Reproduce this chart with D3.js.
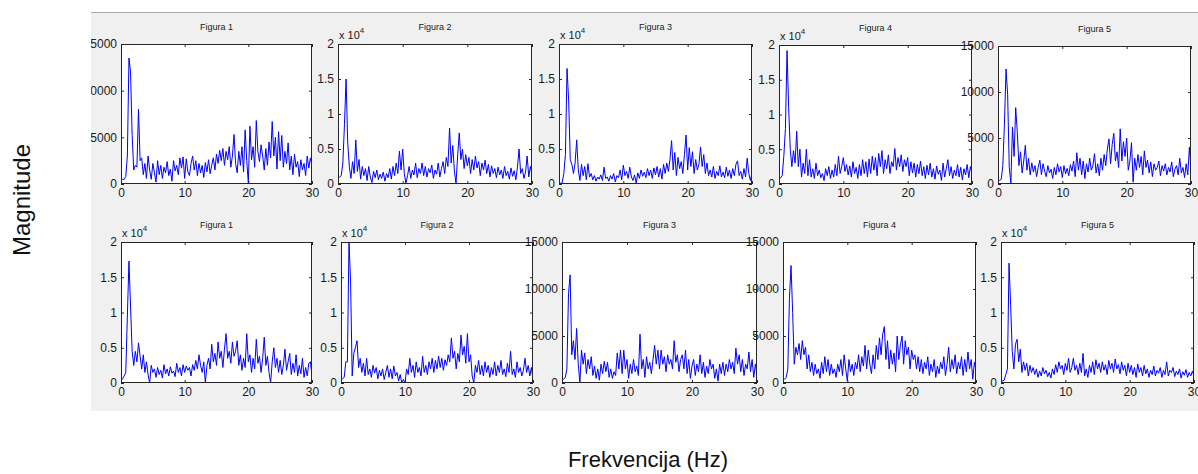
<!DOCTYPE html>
<html>
<head>
<meta charset="utf-8">
<script src="https://cdn.jsdelivr.net/npm/d3@7/dist/d3.min.js"></script>
<style>
  body { margin: 0; background: #fff; }
  svg text { font-family: "Liberation Sans", Arial, sans-serif; }
</style>
</head>
<body>
<div id="chart"></div>
<script>
// spectra, magnitude sampled every 0.25 Hz from 0 to 30 Hz
var top1 = [400,500,500,800, 3000,13500,12000,5200, 1500,2000,1800,8000, 2500,2800,1000,2200,
  600,3000,1500,500, 2200,1200,200,2500, 1000,2000,600,1800, 1200,2400,900,1600,
  300,2500,1400,2000, 1000,2800,1700,2900, 600,2700,1300,900, 2200,3000,1500,2500,
  900,2200,1200,2000, 700,2300,1300,2600, 1100,2000,2800,1500, 3200,2200,3600,2500,
  3800,2000,3500,2600, 4000,1800,3000,5300, 2200,1200,3500,2000, 4000,1300,5800,2500,
  100,6200,2600,4000, 1800,6800,3500,2400, 4200,3000,1500,3800, 2000,4500,2800,6700,
  3000,5000,1600,5600, 2500,5200,1800,3500, 2200,4400,1500,3000, 1000,3200,1800,2400,
  800,2600,1500,2200, 900,3000,1700,2800, 1900];

var top2 = [800,1000,1200,3000, 8500,15000,6000,2500, 800,3200,1500,6300, 1800,3500,700,2500,
  1200,2200,500,2500, 1000,200,1800,900, 2000,600,1400,800, 1700,400,1500,900,
  2200,700,2500,1200, 3000,1500,4700,2000, 5000,1500,100,1200, 2500,800,2000,1300,
  3000,900,2200,1500, 3000,1200,2500,1000, 2200,1600,2700,800, 2000,1400,3000,1000,
  2200,3200,1500,3800, 2500,8000,3000,5500, 1800,100,4000,7300, 3500,5000,2200,4200,
  2600,3800,1500,3500, 2000,4000,2300,3200, 1200,3000,2000,3400, 1500,2800,1000,2600,
  1500,2200,900,2400, 1300,2000,800,2500, 1200,1800,700,2300, 1100,1900,600,2400,
  5000,1500,2200,800, 1700,4000,1000,2500, 1300];

var top3 = [200,100,200,1500, 4200,16500,12000,3500, 2800,1500,3000,6300, 2000,500,2800,1200,
  2500,600,2900,1000, 1500,600,1200,400, 1000,700,1300,500, 2400,800,1000,400,
  1200,700,1500,300, 1200,900,2000,600, 2700,1200,1800,800, 2400,1000,500,1300,
  100,1600,800,2000, 1100,1700,900,2200, 1200,2000,800,2300, 1300,2500,1000,2200,
  700,2800,1500,3000, 1800,3500,6200,2000, 4500,1200,3800,2200, 3200,1500,4200,7000,
  2000,5200,2500,4600, 1500,3500,2000,2800, 5300,2500,4200,1500, 3000,1200,2000,1000,
  2500,800,1800,1200, 2600,1000,1700,900, 2400,1100,2000,800, 2200,1200,2800,3300,
  1200,1800,700,2200, 1000,3700,1500,500, 1600];

var top4 = [1000,900,1200,4000, 8000,19200,11000,5000, 2500,4800,3000,7600, 2500,5000,1000,3000,
  1500,5000,1200,3500, 1000,2200,800,3000, 1200,2000,900,1500, 500,2200,1200,2500,
  800,2000,1000,2800, 1200,4000,1500,2500, 3800,1800,2800,1300, 2600,1000,3200,1500,
  2400,800,2800,1200, 3500,1500,3200,1000, 3600,1500,4000,2000, 3800,1200,4400,2500,
  4800,1500,3500,2200, 4200,1500,3200,2500, 5100,2000,3800,2500, 4200,1800,3500,2500,
  3800,1200,3200,1600, 3000,1000,2800,1500, 3300,1200,2500,800, 2700,1300,3000,1000,
  2200,700,2600,1400, 2000,500,3000,1000, 2200,3500,1200,2500, 800,2000,1200,2800,
  1000,2400,600,2200, 1300,2800,900,2500, 1500];

var top5 = [300,400,500,2000, 6500,12500,9700,1800, 100,6200,3000,8300, 5600,2000,3500,1200,
  2500,4200,1500,2800, 1000,2300,1300,2000, 800,1800,2600,1000, 2200,1400,800,2000,
  1200,1600,600,1800, 1000,2200,1300,1900, 700,2000,1100,1700, 900,2100,1400,2500,
  800,3400,1500,2800, 1000,2500,600,2200, 1300,2800,1500,2000, 3300,1200,2200,900,
  2800,1500,3200,2000, 3800,4900,2200,4300, 5500,2500,3500,1800, 6000,2500,4600,3000,
  5000,1500,2500,4500, 200,2800,1500,3200, 1800,3000,1000,3600, 1800,2600,1200,2400,
  800,2200,1500,1800, 2500,900,2000,1400, 2200,1000,1800,1300, 2400,800,1600,2000,
  1000,2800,1200,1800, 700,2200,1000,4000, 1500];

var bot1 = [300,600,1000,1500, 9500,17300,10800,4500, 2500,4500,3000,5700, 3800,2000,4000,1500,
  3000,1200,0,2500, 1500,2000,800,2200, 1200,1800,700,2600, 1300,2000,1000,2300,
  1400,1700,900,2800, 1500,2200,1000,2600, 1500,2400,1800,2200, 1000,2600,1800,3200,
  2000,4000,2500,1500, 3000,0,2500,3500, 2000,5500,3000,4200, 2500,5800,3500,4500,
  2200,4800,7000,3500, 4500,2800,5800,3800, 4500,6000,2500,4000, 1800,3500,2200,7000,
  3000,4000,1500,3500, 2000,6200,2800,3800, 1500,3500,6500,2500, 3800,1500,0,3000,
  5000,2200,3500,1500, 3200,1200,2500,4800, 1800,3000,4200,1200, 2800,1500,4000,1000,
  2500,1300,3500,800, 2200,1000,2800,3000, 1000];

var bot2 = [500,600,800,3000, 3000,20000,14300,1000, 4200,5000,6000,2200, 3500,1500,2800,1000,
  3500,1200,2000,800, 2500,1400,2200,600, 1800,1000,2000,500, 1500,2500,800,2000,
  600,2400,1000,1500, 300,1200,0,500, 0,2000,1200,3500, 1500,2500,800,3000,
  1500,2200,1000,3800, 1500,2500,1200,3000, 2000,3500,1500,3200, 2000,3800,2200,3500,
  1800,3300,2500,4000, 3000,6400,3500,4500, 2000,4200,3000,6800, 4000,5200,2800,7000,
  3000,4000,1000,0, 2500,1500,3200,1200, 2500,1000,3000,1500, 2500,800,2200,1200,
  3000,1000,2500,1500, 3200,1200,2000,900, 2800,1500,4500,1200, 2000,800,3000,1500,
  2200,1000,1800,3500, 1500,2500,1000,2200, 500];

var bot3 = [300,400,600,1500, 9500,11500,3000,4500, 2500,5800,2000,0, 3500,2000,3200,1000,
  2500,1500,2800,800, 1800,500,1500,300, 2000,1000,2300,1200, 2200,600,1500,500,
  1200,800,3200,1500, 3500,1000,3500,1500, 2500,500,2000,1000, 2500,1200,1800,800,
  5200,1500,2500,600, 2800,1500,2200,1000, 2500,4000,2000,3500, 1500,3500,2000,2800,
  1200,3000,2000,2500, 1500,4500,2200,3000, 1200,2500,3000,1500, 3500,1000,2500,500,
  1800,2500,800,2000, 1200,3000,1000,2200, 600,1800,1000,2500, 1500,2000,500,1500,
  200,2000,1000,2200, 800,2000,1200,2500, 1500,2200,1000,3700, 2000,3000,1200,2500,
  800,2000,1500,3300, 1200,2500,600,2000, 800];

var bot4 = [300,400,600,1500, 9000,12500,7500,2000, 3800,3000,4200,2500, 4500,3000,3800,1500,
  3000,1200,2200,800, 2000,1000,1500,500, 2200,1000,2800,1200, 2500,800,2000,1000,
  1500,600,2000,1200, 2500,800,3000,1500, 200,2500,1200,2000, 800,2200,1500,3000,
  1200,2800,1800,4000, 1500,3500,2000,1000, 3000,1500,4000,2500, 4800,3000,5200,6000,
  2500,4500,1500,3500, 2000,3200,1200,5000, 2500,4000,5000,2000, 4500,3000,3800,1500,
  3500,2500,3000,1500, 2800,1200,2500,1000, 2200,1500,2800,800, 2000,1200,2500,600,
  1800,1000,2200,1500, 2800,800,2000,3800, 1200,2500,1500,3000, 1000,2200,1500,2800,
  800,2500,1200,3300, 1500,2500,400,2200, 1300];

var bot5 = [200,300,400,1200, 2000,17000,11000,4500, 2000,5500,6200,3000, 4800,1500,3000,1800,
  2800,1000,2500,1500, 2200,1200,2000,800, 1700,1000,2200,1300, 1800,900,1500,700,
  2000,1200,2600,1500, 3000,2000,2500,1200, 2800,1800,3500,1500, 2200,3500,1800,2500,
  1200,2800,1500,4200, 1000,2000,800,2500, 1500,3000,1200,3300, 2000,2800,1500,3000,
  1800,2600,1200,3200, 2000,2800,1500,3400, 2000,2600,1300,3000, 1800,2500,1000,2800,
  1500,2500,1200,2200, 800,2700,1500,2200, 1000,2500,1300,2000, 800,1800,1200,2400,
  1000,1800,1400,2200, 800,1800,1200,3000, 1000,1800,1500,2200, 900,1700,1200,2000,
  700,1600,1100,1900, 800,1500,1000,1700, 900];

var titles = ["Figura 1", "Figura 2", "Figura 3", "Figura 4", "Figura 5"];
var freqMax = 30;
var xTicks = [0, 10, 20, 30];
var ticks15k = [0, 5000, 10000, 15000];
var ticks2e4 = [0, 5000, 10000, 15000, 20000];

var width = 1198, height = 474;

var svg = d3.select("#chart").append("svg")
            .attr("width", width)
            .attr("height", height);

var defs = svg.append("defs");

defs.append("clipPath")
    .attr("id", "fig-clip")
  .append("rect")
    .attr("x", 91).attr("y", 12)
    .attr("width", width - 91).attr("height", 399);

// matlab figure window
var fig = svg.append("g")
             .attr("clip-path", "url(#fig-clip)");

fig.append("rect")
   .attr("x", 91).attr("y", 12)
   .attr("width", width - 91).attr("height", 399)
   .attr("fill", "#f0f0f0");

fig.append("line")
   .attr("x1", 91).attr("x2", width)
   .attr("y1", 12.5).attr("y2", 12.5)
   .attr("stroke", "#a8a8a8");

var panels = [
  { data: top1, title: titles[0], yMax: 15000, left: 121, right: 312, top: 44, bottom: 184 },
  { data: top2, title: titles[1], yMax: 20000, left: 338, right: 532, top: 44, bottom: 184 },
  { data: top3, title: titles[2], yMax: 20000, left: 559, right: 752, top: 44, bottom: 184 },
  { data: top4, title: titles[3], yMax: 20000, left: 779, right: 972, top: 45, bottom: 184 },
  { data: top5, title: titles[4], yMax: 15000, left: 998, right: 1191, top: 46, bottom: 184 },
  { data: bot1, title: titles[0], yMax: 20000, left: 121, right: 312, top: 242, bottom: 383 },
  { data: bot2, title: titles[1], yMax: 20000, left: 341, right: 533, top: 242, bottom: 383 },
  { data: bot3, title: titles[2], yMax: 15000, left: 562, right: 757, top: 242, bottom: 383 },
  { data: bot4, title: titles[3], yMax: 15000, left: 783, right: 976, top: 242, bottom: 383 },
  { data: bot5, title: titles[4], yMax: 20000, left: 1001, right: 1194, top: 242, bottom: 383 }
];

panels.forEach((p, i) => {
  var x = d3.scaleLinear()
            .domain([0, freqMax])
            .range([p.left, p.right]);

  var y = d3.scaleLinear()
            .domain([0, p.yMax])
            .range([p.bottom, p.top]);

  var sci = p.yMax > 15000;
  var step = freqMax / (p.data.length - 1);

  var g = fig.append("g").attr("class", "panel");

  g.append("rect")
   .attr("x", p.left).attr("y", p.top)
   .attr("width", p.right - p.left).attr("height", p.bottom - p.top)
   .attr("fill", "#fff");

  defs.append("clipPath")
      .attr("id", "clip" + i)
    .append("rect")
      .attr("x", p.left).attr("y", p.top)
      .attr("width", p.right - p.left).attr("height", p.bottom - p.top);

  var line = d3.line()
               .x((d, j) => x(j * step))
               .y(d => y(d));

  g.append("path")
   .datum(p.data)
   .attr("clip-path", "url(#clip" + i + ")")
   .attr("d", line)
   .attr("fill", "none")
   .attr("stroke", "#0000ff")
   .attr("stroke-width", 1)
   .attr("stroke-linejoin", "round");

  var fmt = sci ? (d => d / 10000) : (d => d);
  var yTicks = sci ? ticks2e4 : ticks15k;

  // inward ticks on all four sides, like matlab
  var axes = [
    { axis: d3.axisBottom(x).tickValues(xTicks).tickFormat(d => d), pos: "translate(0," + p.bottom + ")" },
    { axis: d3.axisTop(x).tickValues(xTicks).tickFormat(""), pos: "translate(0," + p.top + ")" },
    { axis: d3.axisLeft(y).tickValues(yTicks).tickFormat(fmt), pos: "translate(" + p.left + ",0)" },
    { axis: d3.axisRight(y).tickValues(yTicks).tickFormat(""), pos: "translate(" + p.right + ",0)" }
  ];

  axes.forEach(a => {
    var ag = g.append("g")
              .attr("transform", a.pos)
              .call(a.axis.tickSizeInner(-3).tickSizeOuter(0).tickPadding(4));
    ag.select(".domain").remove();
    ag.selectAll("line").attr("stroke", "#262626");
    ag.selectAll("text")
      .attr("font-size", 12)
      .attr("font-family", "Liberation Sans, Arial, sans-serif")
      .attr("fill", "#1a1a1a");
  });

  g.append("rect")
   .attr("x", p.left + 0.5).attr("y", p.top + 0.5)
   .attr("width", p.right - p.left - 1).attr("height", p.bottom - p.top - 1)
   .attr("fill", "none")
   .attr("stroke", "#262626");

  g.append("text")
   .attr("x", (p.left + p.right) / 2)
   .attr("y", p.top - 14)
   .attr("text-anchor", "middle")
   .attr("font-size", 9)
   .attr("fill", "#1a1a1a")
   .text(p.title);

  if (sci) {
    var ex = g.append("text")
              .attr("x", p.left + 1)
              .attr("y", p.top - 5)
              .attr("font-size", 11)
              .attr("fill", "#1a1a1a");
    ex.append("tspan").text("x 10");
    ex.append("tspan")
      .attr("dy", -6)
      .attr("font-size", 8)
      .text("4");
  }
});

svg.append("text")
   .attr("transform", "translate(30,200) rotate(-90)")
   .attr("text-anchor", "middle")
   .attr("font-size", 24)
   .attr("fill", "#111")
   .text("Magnitude");

svg.append("text")
   .attr("x", 648)
   .attr("y", 467)
   .attr("text-anchor", "middle")
   .attr("font-size", 22)
   .attr("font-family", "Carlito, Lato, 'Open Sans', sans-serif")
   .attr("fill", "#111")
   .text("Frekvencija (Hz)");
</script>
</body>
</html>
